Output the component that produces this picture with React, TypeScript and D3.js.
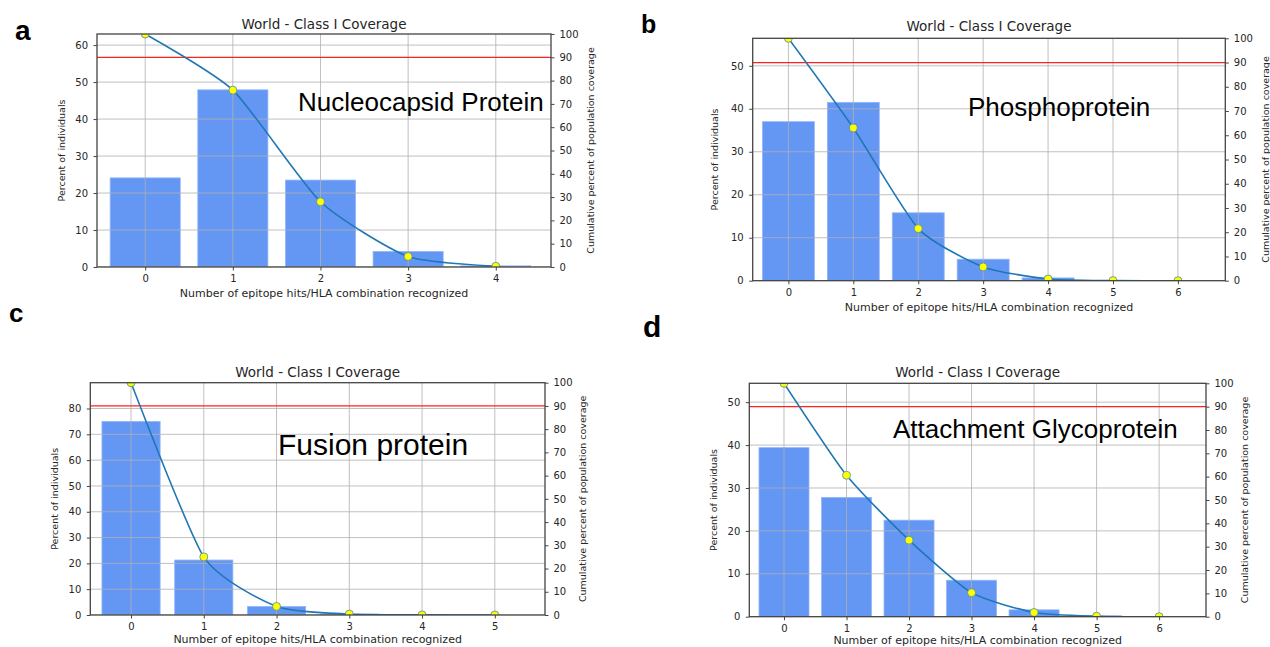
import React, { useEffect, useRef } from 'react';
import * as d3 from 'd3';

// text
const titleText = 'World - Class I Coverage';
const xLabelText = 'Number of epitope hits/HLA combination recognized';
const leftLabelText = 'Percent of individuals';
const rightLabelText = 'Cumulative percent of population coverage';

// panel a - Nucleocapsid Protein
const hitsA = [0, 1, 2, 3, 4];
const percentA = [24.1, 47.9, 23.5, 4.2, 0.3];
const cumulativeA = [100, 75.9, 28.0, 4.5, 0.3];
const leftTicksA = [0, 10, 20, 30, 40, 50, 60];

// panel b - Phosphoprotein
const hitsB = [0, 1, 2, 3, 4, 5, 6];
const percentB = [37.0, 41.5, 15.8, 5.0, 0.65, 0.05, 0];
const cumulativeB = [100, 63.0, 21.5, 5.7, 0.7, 0.05, 0];
const leftTicksB = [0, 10, 20, 30, 40, 50];

// panel c - Fusion protein
const hitsC = [0, 1, 2, 3, 4, 5];
const percentC = [75.0, 21.3, 3.3, 0.35, 0.05, 0];
const cumulativeC = [100, 25.0, 3.7, 0.4, 0.05, 0];
const leftTicksC = [0, 10, 20, 30, 40, 50, 60, 70, 80];

// panel d - Attachment Glycoprotein
const hitsD = [0, 1, 2, 3, 4, 5, 6];
const percentD = [39.4, 27.8, 22.5, 8.5, 1.6, 0.2, 0];
const cumulativeD = [100, 60.6, 32.8, 10.3, 1.8, 0.2, 0];
const leftTicksD = [0, 10, 20, 30, 40, 50];

const rightTicks = [0, 10, 20, 30, 40, 50, 60, 70, 80, 90, 100];
const thresholdLine = 90;

const panels = [
  {
    id: 'a', hits: hitsA, percent: percentA, cumulative: cumulativeA, leftTicks: leftTicksA,
    name: 'Nucleocapsid Protein', nameX: 298, nameY: 111, nameSize: 26,
    letterX: 15, letterY: 40, letterSize: 28,
    left: 97, right: 551, top: 34, bottom: 267, xDomain: [-0.55, 4.63], leftMax: 63,
    titleY: 29, xLabelY: 297, leftLabelX: 62, rightLabelX: 591,
  },
  {
    id: 'b', hits: hitsB, percent: percentB, cumulative: cumulativeB, leftTicks: leftTicksB,
    name: 'Phosphoprotein', nameX: 968, nameY: 116, nameSize: 26,
    letterX: 641, letterY: 33, letterSize: 25,
    left: 752.7, right: 1225.3, top: 38.3, bottom: 280.7, xDomain: [-0.55, 6.73], leftMax: 56.4,
    titleY: 31, xLabelY: 311, leftLabelX: 715, rightLabelX: 1266,
  },
  {
    id: 'c', hits: hitsC, percent: percentC, cumulative: cumulativeC, leftTicks: leftTicksC,
    name: 'Fusion protein', nameX: 278, nameY: 455, nameSize: 30,
    letterX: 9, letterY: 322, letterSize: 26,
    left: 90.3, right: 545, top: 382.7, bottom: 615, xDomain: [-0.56, 5.69], leftMax: 90,
    titleY: 377, xLabelY: 643, leftLabelX: 55, rightLabelX: 583,
  },
  {
    id: 'd', hits: hitsD, percent: percentD, cumulative: cumulativeD, leftTicks: leftTicksD,
    name: 'Attachment Glycoprotein', nameX: 893, nameY: 438, nameSize: 26,
    letterX: 643, letterY: 337, letterSize: 30,
    left: 749.3, right: 1206, top: 383.3, bottom: 616.7, xDomain: [-0.555, 6.75], leftMax: 54.4,
    titleY: 377, xLabelY: 644, leftLabelX: 714, rightLabelX: 1245,
  },
];

const tickFont = '"DejaVu Sans", sans-serif';
const textColor = '#262626';

function drawPanel(svg: any, p: any) {
  const x = d3.scaleLinear().domain(p.xDomain).range([p.left, p.right]);
  const yLeft = d3.scaleLinear().domain([0, p.leftMax]).range([p.bottom, p.top]);
  const yRight = d3.scaleLinear().domain([0, 100]).range([p.bottom, p.top]);

  const g = svg.append('g');
  const clipId = `clip-${p.id}`;
  g.append('clipPath').attr('id', clipId)
    .append('rect')
    .attr('x', p.left).attr('y', p.top)
    .attr('width', p.right - p.left).attr('height', p.bottom - p.top);

  const plot = g.append('g').attr('clip-path', `url(#${clipId})`);

  // bars
  const barW = x(0.8) - x(0);
  plot.selectAll('rect.bar').data(p.percent).join('rect')
    .attr('class', 'bar')
    .attr('x', (d: number, i: number) => x(p.hits[i] - 0.4))
    .attr('width', barW)
    .attr('y', (d: number) => yLeft(d))
    .attr('height', (d: number) => p.bottom - yLeft(d))
    .attr('fill', '#6496f4')
    .attr('stroke', '#94b6f8')
    .attr('stroke-width', 0.8);

  // grid on top of bars
  plot.selectAll('line.vgrid').data(p.hits).join('line')
    .attr('x1', (d: number) => x(d)).attr('x2', (d: number) => x(d))
    .attr('y1', p.top).attr('y2', p.bottom)
    .attr('stroke', '#b0b0b0').attr('stroke-opacity', 0.8).attr('stroke-width', 1);
  plot.selectAll('line.hgrid').data(p.leftTicks).join('line')
    .attr('x1', p.left).attr('x2', p.right)
    .attr('y1', (d: number) => yLeft(d)).attr('y2', (d: number) => yLeft(d))
    .attr('stroke', '#b0b0b0').attr('stroke-opacity', 0.8).attr('stroke-width', 1);

  // 90% threshold
  plot.append('line')
    .attr('x1', p.left).attr('x2', p.right)
    .attr('y1', yRight(thresholdLine)).attr('y2', yRight(thresholdLine))
    .attr('stroke', '#ff2020').attr('stroke-width', 1.3);

  // cumulative coverage curve
  const line = d3.line<number>()
    .x((d, i) => x(p.hits[i]))
    .y((d) => yRight(d))
    .curve(d3.curveCardinal.tension(0.4));
  plot.append('path')
    .datum(p.cumulative)
    .attr('d', line)
    .attr('fill', 'none')
    .attr('stroke', '#1f77b4')
    .attr('stroke-width', 1.6);
  plot.selectAll('circle.pt').data(p.cumulative).join('circle')
    .attr('cx', (d: number, i: number) => x(p.hits[i]))
    .attr('cy', (d: number) => yRight(d))
    .attr('r', 4)
    .attr('fill', '#ffff00')
    .attr('stroke', '#4a8aa8')
    .attr('stroke-width', 0.8);

  // axes
  const styleAxis = (a: any) => {
    a.select('.domain').remove();
    a.selectAll('line').attr('stroke', '#444').attr('stroke-width', 1);
    a.selectAll('text').attr('fill', textColor).style('font-family', tickFont).style('font-size', '10px');
  };
  g.append('g').attr('transform', `translate(0,${p.bottom})`)
    .call(d3.axisBottom(x).tickValues(p.hits).tickFormat(d3.format('d')).tickSize(3.5).tickPadding(4.5))
    .call(styleAxis);
  g.append('g').attr('transform', `translate(${p.left},0)`)
    .call(d3.axisLeft(yLeft).tickValues(p.leftTicks).tickFormat(d3.format('d')).tickSize(3.5).tickPadding(5.5))
    .call(styleAxis);
  g.append('g').attr('transform', `translate(${p.right},0)`)
    .call(d3.axisRight(yRight).tickValues(rightTicks).tickFormat(d3.format('d')).tickSize(3.5).tickPadding(5))
    .call(styleAxis);

  // frame
  g.append('rect')
    .attr('x', p.left).attr('y', p.top)
    .attr('width', p.right - p.left).attr('height', p.bottom - p.top)
    .attr('fill', 'none').attr('stroke', '#444').attr('stroke-width', 1.3);

  // labels
  const midX = (p.left + p.right) / 2;
  const midY = (p.top + p.bottom) / 2;
  g.append('text').attr('x', midX).attr('y', p.titleY)
    .attr('text-anchor', 'middle').attr('fill', textColor)
    .style('font-family', tickFont).style('font-size', '13.5px')
    .text(titleText);
  g.append('text').attr('x', midX).attr('y', p.xLabelY)
    .attr('text-anchor', 'middle').attr('fill', textColor)
    .style('font-family', tickFont).style('font-size', '11px')
    .text(xLabelText);
  g.append('text')
    .attr('transform', `translate(${p.leftLabelX},${midY}) rotate(-90)`)
    .attr('text-anchor', 'middle').attr('dy', '0.35em').attr('fill', textColor)
    .style('font-family', tickFont).style('font-size', '9.5px')
    .text(leftLabelText);
  g.append('text')
    .attr('transform', `translate(${p.rightLabelX},${midY}) rotate(-90)`)
    .attr('text-anchor', 'middle').attr('dy', '0.35em').attr('fill', textColor)
    .style('font-family', tickFont).style('font-size', '9.5px')
    .text(rightLabelText);

  // protein name annotation
  g.append('text').attr('x', p.nameX).attr('y', p.nameY)
    .attr('fill', '#000')
    .style('font-family', '"Liberation Sans", Arial, sans-serif')
    .style('font-size', `${p.nameSize}px`)
    .text(p.name);

  // panel letter
  svg.append('text').attr('x', p.letterX).attr('y', p.letterY)
    .attr('fill', '#000')
    .style('font-family', '"Liberation Sans", Arial, sans-serif')
    .style('font-weight', 'bold')
    .style('font-size', `${p.letterSize}px`)
    .text(p.id);
}

export default function App() {
  const ref = useRef<SVGSVGElement>(null);

  useEffect(() => {
    const svg = d3.select(ref.current);
    svg.selectAll('*').remove();
    panels.forEach((p) => drawPanel(svg, p));
  }, []);

  return (
    <svg
      ref={ref}
      width={1270}
      height={647}
      style={{ position: 'absolute', left: 0, top: 0, background: '#fff' }}
    />
  );
}
